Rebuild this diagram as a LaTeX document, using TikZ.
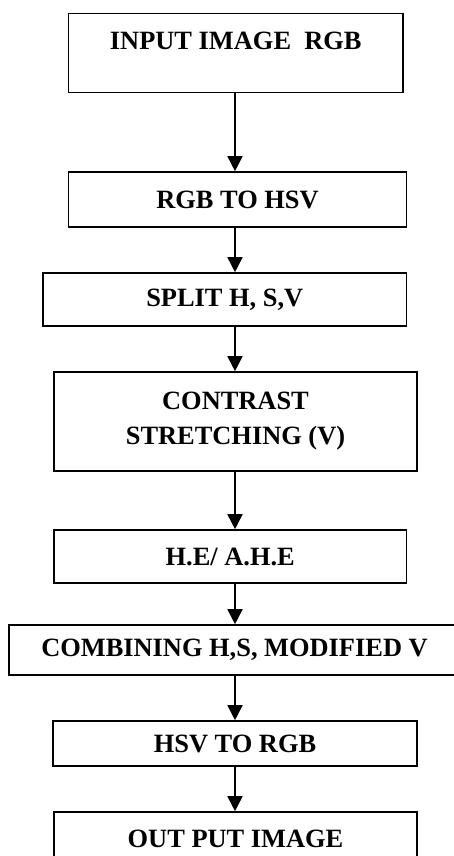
\documentclass[tikz,border=0pt]{standalone}
\usepackage{fontspec}
\setmainfont{Liberation Serif}
\usetikzlibrary{arrows.meta}

\tikzset{
    blk/.style={draw, line width=1.6pt, inner sep=0pt, align=center,
        font=\bfseries\fontsize{26.4}{35}\selectfont},
    arr/.style={line width=1.6pt, -{Triangle[width=15pt,length=15pt]}}
}

\begin{document}
\begin{tikzpicture}[x=1pt, y=-1pt]
        \useasboundingbox (0,0) rectangle (453,856);
        % Draw the process boxes
        \node[blk, minimum width=334.5pt, minimum height=79pt, text height=36pt, text depth=43pt] (b1) at (235.75, 53) {INPUT IMAGE\ \ RGB};
        \node[blk, minimum width=338pt, minimum height=55pt] (b2) at (237.5, 199.5) {RGB TO HSV};
        \node[blk, minimum width=363.5pt, minimum height=53pt] (b3) at (224.75, 299.5) {SPLIT H, S,V};
        \node[blk, minimum width=363pt, minimum height=99pt] (b4) at (235.5, 421.5) {CONTRAST\\STRETCHING (V)};
        \node[blk, minimum width=352.5pt, minimum height=53pt] (b5) at (230.25, 556.5) {H.E/ A.H.E};
        \node[blk, minimum width=451pt, minimum height=50pt] (b6) at (234.5, 650) {COMBINING H,S, MODIFIED V};
        \node[blk, minimum width=364pt, minimum height=45pt] (b7) at (235, 743.5) {HSV TO RGB};
        \node[blk, minimum width=363pt, minimum height=54pt] (b8) at (235.5, 839) {OUT PUT IMAGE};

        % Draw the arrows
        \coordinate (axis) at (235, 0);
        \draw[arr] (axis |- b1.south) -- (axis |- b2.north);
        \draw[arr] (axis |- b2.south) -- (axis |- b3.north);
        \draw[arr] (axis |- b3.south) -- (axis |- b4.north);
        \draw[arr] (axis |- b4.south) -- (axis |- b5.north);
        \draw[arr] (axis |- b5.south) -- (axis |- b6.north);
        \draw[arr] (axis |- b6.south) -- (axis |- b7.north);
        \draw[arr] (axis |- b7.south) -- (axis |- b8.north);
    \end{tikzpicture}
\end{document}
